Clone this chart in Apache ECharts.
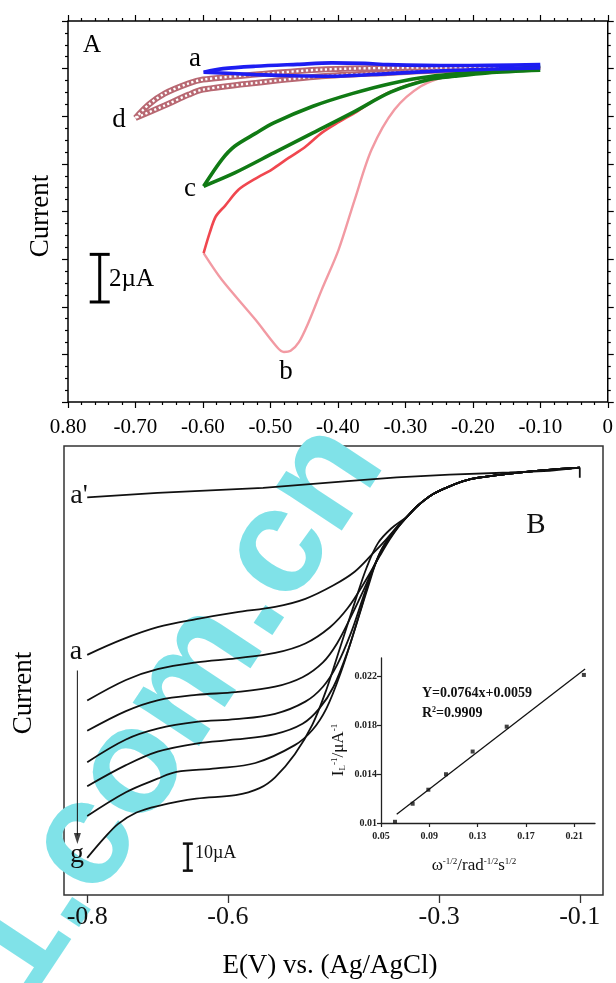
<!DOCTYPE html>
<html>
<head>
<meta charset="utf-8">
<script src="https://cdn.jsdelivr.net/npm/echarts@6/dist/echarts.min.js"></script>
<style>
  html, body { margin: 0; padding: 0; background: #fff; }
  #chart { width: 616px; height: 983px; }
</style>
</head>
<body>
<div id="chart"></div>
<script>
// ---------- Panel A: cyclic voltammograms, [potential (V), current (µA)] ----------
const cvA_a_fwd = [[-0.10,0.03],[-0.16,-0.01],[-0.227,-0.07],[-0.326,-0.21],[-0.409,-0.32],[-0.48,-0.29],[-0.522,-0.25],[-0.599,-0.15]];
const cvA_a_rev = [[-0.599,-0.15],[-0.57,0.0],[-0.522,0.10],[-0.46,0.18],[-0.409,0.24],[-0.36,0.22],[-0.326,0.17],[-0.227,0.13],[-0.10,0.17]];

const cvA_b_fwd = [[-0.10,0.0],[-0.178,-0.11],[-0.237,-0.32],[-0.277,-0.74],[-0.316,-1.72],[-0.350,-3.40],[-0.375,-5.50],[-0.399,-7.61],[-0.424,-9.29],[-0.444,-10.69],[-0.458,-11.5],[-0.47,-11.85],[-0.48,-11.9],[-0.49,-11.7],[-0.522,-10.55],[-0.572,-8.87],[-0.599,-7.75]];
const cvA_b_rev = [[-0.599,-7.75],[-0.59,-6.9],[-0.581,-6.21],[-0.567,-5.75],[-0.547,-5.08],[-0.522,-4.62],[-0.498,-4.24],[-0.473,-3.75],[-0.449,-3.30],[-0.424,-2.70],[-0.399,-2.25],[-0.375,-1.86],[-0.350,-1.40],[-0.326,-1.02],[-0.277,-0.53],[-0.227,-0.32],[-0.178,-0.15],[-0.10,0.05]];

const cvA_c_fwd = [[-0.10,-0.07],[-0.178,-0.18],[-0.227,-0.32],[-0.263,-0.45],[-0.321,-0.98],[-0.379,-1.86],[-0.437,-2.70],[-0.495,-3.54],[-0.553,-4.38],[-0.599,-4.94]];
const cvA_c_rev = [[-0.599,-4.94],[-0.572,-3.82],[-0.553,-3.26],[-0.522,-2.72],[-0.495,-2.28],[-0.437,-1.58],[-0.379,-1.05],[-0.321,-0.62],[-0.263,-0.33],[-0.178,-0.11],[-0.10,0.10]];

const cvA_d_fwd = [[-0.15,-0.02],[-0.25,-0.08],[-0.326,-0.18],[-0.424,-0.32],[-0.522,-0.60],[-0.60,-0.88],[-0.621,-1.09],[-0.657,-1.55],[-0.70,-2.07]];
const cvA_d_rev = [[-0.70,-2.07],[-0.68,-1.5],[-0.657,-1.05],[-0.621,-0.62],[-0.60,-0.46],[-0.522,-0.25],[-0.424,-0.04],[-0.326,0.03],[-0.25,0.05],[-0.15,0.05]];

// 2 µA scale bar in panel A
const scaleBarA = [[-0.753,-7.8],[-0.753,-9.8]];

// ---------- Panel B: linear sweep voltammograms at different rotation rates ----------
const lsvB_a0 = [[-0.8,-11.0],[-0.70,-9.3],[-0.55,-7.5],[-0.43,-5.0],[-0.36,-3.6],[-0.285,-2.6],[-0.2,-1.8],[-0.143,-1.2],[-0.1,0],[-0.1,-3.7]];
const lsvB_a = [[-0.8,-69.2],[-0.75,-63.5],[-0.70,-59],[-0.645,-56],[-0.589,-53.5],[-0.533,-51.5],[-0.49,-48.5],[-0.45,-43.5],[-0.42,-38.5],[-0.395,-32],[-0.375,-26.5],[-0.36,-22],[-0.345,-18],[-0.33,-14],[-0.31,-10],[-0.285,-6.9],[-0.254,-4.2],[-0.22,-2.9],[-0.19,-1.9],[-0.15,-0.9],[-0.1,0]];
const lsvB_b = [[-0.8,-86.1],[-0.745,-78.5],[-0.70,-74.5],[-0.645,-72],[-0.589,-70.5],[-0.533,-68.5],[-0.49,-65],[-0.455,-59],[-0.43,-52],[-0.405,-42],[-0.385,-33],[-0.37,-26.5],[-0.358,-22],[-0.345,-18],[-0.33,-14],[-0.31,-10],[-0.285,-6.9],[-0.254,-4.2],[-0.22,-2.9],[-0.19,-1.9],[-0.15,-0.9],[-0.1,0]];
const lsvB_c = [[-0.8,-97.3],[-0.745,-90],[-0.70,-86],[-0.645,-84],[-0.589,-83],[-0.533,-81],[-0.494,-77.5],[-0.465,-72],[-0.445,-65],[-0.425,-55],[-0.405,-44],[-0.39,-35],[-0.375,-28],[-0.36,-22.5],[-0.345,-18],[-0.33,-14],[-0.31,-10],[-0.285,-6.9],[-0.254,-4.2],[-0.22,-2.9],[-0.19,-1.9],[-0.15,-0.9],[-0.1,0]];
const lsvB_d = [[-0.8,-108.9],[-0.745,-100.5],[-0.70,-96.5],[-0.645,-94],[-0.589,-93],[-0.533,-91],[-0.49,-86.5],[-0.465,-81],[-0.445,-73],[-0.425,-61],[-0.408,-48],[-0.393,-37],[-0.378,-29],[-0.362,-23],[-0.345,-18],[-0.33,-14],[-0.31,-10],[-0.285,-6.9],[-0.254,-4.2],[-0.22,-2.9],[-0.19,-1.9],[-0.15,-0.9],[-0.1,0]];
const lsvB_e = [[-0.8,-117.8],[-0.745,-110],[-0.70,-105],[-0.645,-102],[-0.589,-100.5],[-0.533,-98.5],[-0.494,-94.7],[-0.47,-89],[-0.45,-81],[-0.43,-68],[-0.412,-53],[-0.397,-40],[-0.381,-30],[-0.364,-23.5],[-0.345,-18],[-0.33,-14],[-0.31,-10],[-0.285,-6.9],[-0.254,-4.2],[-0.22,-2.9],[-0.19,-1.9],[-0.15,-0.9],[-0.1,0]];
const lsvB_f = [[-0.8,-128.8],[-0.745,-120],[-0.70,-115],[-0.673,-112.5],[-0.617,-111.2],[-0.561,-109.2],[-0.505,-102.6],[-0.48,-97],[-0.46,-89],[-0.44,-76],[-0.42,-60],[-0.402,-45],[-0.385,-32],[-0.366,-24],[-0.345,-18],[-0.33,-14],[-0.31,-10],[-0.285,-6.9],[-0.254,-4.2],[-0.22,-2.9],[-0.19,-1.9],[-0.15,-0.9],[-0.1,0]];
const lsvB_g = [[-0.8,-144.3],[-0.776,-137],[-0.756,-131.7],[-0.73,-127.5],[-0.70,-125.1],[-0.645,-122.4],[-0.589,-121.1],[-0.555,-118.5],[-0.533,-114.5],[-0.505,-106],[-0.48,-95],[-0.46,-82],[-0.44,-66],[-0.42,-50],[-0.403,-37],[-0.387,-28],[-0.368,-22.5],[-0.345,-18],[-0.33,-14],[-0.31,-10],[-0.285,-6.9],[-0.254,-4.2],[-0.22,-2.9],[-0.19,-1.9],[-0.15,-0.9],[-0.1,0]];
const lsvCurves = [lsvB_a, lsvB_b, lsvB_c, lsvB_d, lsvB_e, lsvB_f, lsvB_g];

// arrow a -> g and 10 µA scale bar
const arrowB = [[-0.814,-75],[-0.814,-136]];
const scaleBarB = [[-0.657,-139],[-0.657,-149]];

// ---------- Inset: Koutecky-Levich plot ----------
const klX = [0.0616, 0.0762, 0.0892, 0.1038, 0.1259, 0.1541, 0.2180];
const klY = [0.0101, 0.01158, 0.01273, 0.0140, 0.01586, 0.0179, 0.02214];
const fitSlope = 0.0764, fitIntercept = 0.0059;
const fitRange = [0.063, 0.219];
const insetTicksX = [0.05, 0.09, 0.13, 0.17, 0.21];
const insetTicksY = [0.01, 0.014, 0.018, 0.022];

// panel B x ticks
const ticksB = [-0.8, -0.6, -0.3, -0.1];

const SERIF = '"Liberation Serif", "Times New Roman", serif';

const chart = echarts.init(document.getElementById('chart'), null, { renderer: 'canvas' });

function cvLine(data, color, width, z, extra) {
  return Object.assign({
    type: 'line', xAxisIndex: 0, yAxisIndex: 0, data: data,
    smooth: 0.3, showSymbol: false, symbol: 'none',
    lineStyle: { color: color, width: width }, z: z, silent: true, animation: false
  }, extra || {});
}

const series = [];
// d: chain of hollow squares (outline band with white holes)
[cvA_d_fwd, cvA_d_rev].forEach(d => {
  series.push(cvLine(d, '#b86872', 6, 2));
  series.push(cvLine(d, '#ffffff', 2.4, 3, { lineStyle: { color: '#ffffff', width: 2.4, type: [2.2, 2.6] } }));
});
series.push(cvLine(cvA_b_fwd, '#f29aa3', 2.4, 4));
series.push(cvLine(cvA_b_rev, '#f0474f', 2.6, 5));
series.push(cvLine(cvA_c_fwd, '#107a14', 3.6, 6));
series.push(cvLine(cvA_c_rev, '#107a14', 3.6, 6));
series.push(cvLine(cvA_a_fwd, '#1d1df2', 3.6, 7));
series.push(cvLine(cvA_a_rev, '#1d1df2', 3.6, 7));
series.push({
  type: 'line', xAxisIndex: 0, yAxisIndex: 0, data: scaleBarA, silent: true, animation: false,
  symbol: 'rect', symbolSize: [20, 3], showSymbol: true,
  itemStyle: { color: '#000' }, lineStyle: { color: '#000', width: 3 }, z: 8
});

// panel B
series.push({
  type: 'line', xAxisIndex: 1, yAxisIndex: 2, data: lsvB_a0, smooth: false, showSymbol: false, symbol: 'none',
  lineStyle: { color: '#111', width: 1.8 }, z: 5, silent: true, animation: false
});
lsvCurves.forEach(c => series.push({
  type: 'line', xAxisIndex: 1, yAxisIndex: 2, data: c, smooth: 0.35,
  showSymbol: false, symbol: 'none', lineStyle: { color: '#111', width: 1.8 }, z: 5, silent: true, animation: false
}));
series.push({
  type: 'line', xAxisIndex: 1, yAxisIndex: 2, data: arrowB, silent: true, animation: false,
  showSymbol: false, symbol: 'none', lineStyle: { color: '#111', width: 1 }, z: 5
});
series.push({
  type: 'scatter', xAxisIndex: 1, yAxisIndex: 2, data: [arrowB[1]], silent: true, animation: false,
  symbol: 'triangle', symbolRotate: 180, symbolSize: [7, 11], symbolOffset: [0, 3],
  itemStyle: { color: '#111' }, z: 5
});
series.push({
  type: 'line', xAxisIndex: 1, yAxisIndex: 2, data: scaleBarB, silent: true, animation: false,
  symbol: 'rect', symbolSize: [10, 2.5], showSymbol: true,
  itemStyle: { color: '#111' }, lineStyle: { color: '#111', width: 2.5 }, z: 5
});

// inset
series.push({
  type: 'line', xAxisIndex: 2, yAxisIndex: 3, silent: true, animation: false,
  data: fitRange.map(x => [x, fitSlope * x + fitIntercept]),
  showSymbol: false, symbol: 'none', lineStyle: { color: '#111', width: 1.3 }, z: 6
});
series.push({
  type: 'scatter', xAxisIndex: 2, yAxisIndex: 3, silent: true, animation: false,
  data: klX.map((x, i) => [x, klY[i]]), symbol: 'rect', symbolSize: 4,
  itemStyle: { color: '#111' }, z: 7
});

const noLine = { show: false, onZero: false };
const tickStyle = { color: '#000', width: 1.2 };

const option = {
  backgroundColor: '#fff',
  animation: false,
  grid: [
    { left: 68, top: 21, width: 543, height: 381, show: true, borderColor: '#000', borderWidth: 1.5, backgroundColor: 'transparent' },
    { left: 64, top: 446, width: 539, height: 449, show: true, borderColor: '#333', borderWidth: 1.5, backgroundColor: 'transparent' },
    { left: 381, top: 658, width: 214, height: 165 }
  ],
  xAxis: [
    { type: 'value', gridIndex: 0, position: 'bottom', min: -0.8, max: 0, interval: 0.1,
      axisLine: noLine, splitLine: { show: false },
      axisTick: { show: true, length: 6, lineStyle: tickStyle },
      minorTick: { show: true, splitNumber: 5, length: 3, lineStyle: tickStyle },
      axisLabel: { margin: 15, fontFamily: SERIF, fontSize: 21, color: '#000',
        formatter: v => { if (Math.abs(v) < 1e-9) return '0'; const s = v.toFixed(2); return s === '-0.80' ? '0.80' : s; } } },
    { type: 'value', gridIndex: 1, position: 'bottom', min: -0.833, max: -0.067,
      axisLine: noLine, splitLine: { show: false },
      axisTick: { show: true, length: 8, customValues: ticksB, lineStyle: { color: '#333', width: 1.3 } },
      axisLabel: { show: true, customValues: ticksB, margin: 9, fontFamily: SERIF, fontSize: 26, color: '#111',
        formatter: v => String(v) } },
    { type: 'value', gridIndex: 2, position: 'bottom', min: 0.05, max: 0.2272,
      axisLine: { show: true, onZero: false, lineStyle: { color: '#222', width: 1.3 } },
      splitLine: { show: false },
      axisTick: { show: true, length: 4, customValues: insetTicksX, lineStyle: { color: '#222', width: 1.2 } },
      axisLabel: { margin: 8, customValues: insetTicksX, fontFamily: SERIF, fontWeight: 'bold', fontSize: 10, color: '#222',
        formatter: v => v.toFixed(2) } },
    { type: 'value', gridIndex: 0, position: 'top', min: -0.8, max: 0, interval: 0.1,
      axisLine: noLine, splitLine: { show: false }, axisLabel: { show: false },
      axisTick: { show: true, length: 6, lineStyle: tickStyle },
      minorTick: { show: true, splitNumber: 5, length: 3, lineStyle: tickStyle } }
  ],
  yAxis: [
    { type: 'value', gridIndex: 0, position: 'left', min: -14, max: 2, interval: 2,
      axisLine: noLine, splitLine: { show: false }, axisLabel: { show: false },
      axisTick: { show: true, length: 6, lineStyle: tickStyle },
      minorTick: { show: true, splitNumber: 4, length: 3, lineStyle: tickStyle } },
    { type: 'value', gridIndex: 0, position: 'right', min: -14, max: 2, interval: 2,
      axisLine: noLine, splitLine: { show: false }, axisLabel: { show: false },
      axisTick: { show: true, length: 6, lineStyle: tickStyle },
      minorTick: { show: true, splitNumber: 4, length: 3, lineStyle: tickStyle } },
    { type: 'value', gridIndex: 1, min: -158, max: 8, show: false, axisLine: noLine },
    { type: 'value', gridIndex: 2, position: 'left', min: 0.01, max: 0.02353,
      axisLine: { show: true, onZero: false, lineStyle: { color: '#222', width: 1.3 } },
      splitLine: { show: false },
      axisTick: { show: true, length: 4, customValues: insetTicksY, lineStyle: { color: '#222', width: 1.2 } },
      axisLabel: { margin: 4, customValues: insetTicksY, fontFamily: SERIF, fontWeight: 'bold', fontSize: 10, color: '#222',
        formatter: v => String(parseFloat(v.toFixed(3))) } }
  ],
  series: series,
  graphic: [
    // watermark
    { type: 'text', x: 352, y: 440, rotation: 0.986, z: 0, silent: true,
      style: { text: '1.com.cn', fill: '#80e2e8', font: 'bold 150px "Liberation Sans", Arial, sans-serif',
        textAlign: 'right', textVerticalAlign: 'middle' } },
    // panel A texts
    { type: 'text', x: 41, y: 216, rotation: Math.PI / 2, z: 100,
      style: { text: 'Current', font: '27px ' + SERIF, fill: '#000', textAlign: 'center', textVerticalAlign: 'middle' } },
    { type: 'text', x: 92, y: 45, z: 100, style: { text: 'A', font: '25px ' + SERIF, fill: '#000', textAlign: 'center', textVerticalAlign: 'middle' } },
    { type: 'text', x: 195, y: 59, z: 100, style: { text: 'a', font: '27px ' + SERIF, fill: '#000', textAlign: 'center', textVerticalAlign: 'middle' } },
    { type: 'text', x: 119, y: 120, z: 100, style: { text: 'd', font: '27px ' + SERIF, fill: '#000', textAlign: 'center', textVerticalAlign: 'middle' } },
    { type: 'text', x: 190, y: 189, z: 100, style: { text: 'c', font: '27px ' + SERIF, fill: '#000', textAlign: 'center', textVerticalAlign: 'middle' } },
    { type: 'text', x: 286, y: 372, z: 100, style: { text: 'b', font: '27px ' + SERIF, fill: '#000', textAlign: 'center', textVerticalAlign: 'middle' } },
    { type: 'text', x: 109, y: 279, z: 100, style: { text: '2µA', font: '25px ' + SERIF, fill: '#000', textAlign: 'left', textVerticalAlign: 'middle' } },
    // panel B texts
    { type: 'text', x: 24, y: 693, rotation: Math.PI / 2, z: 100,
      style: { text: 'Current', font: '27px ' + SERIF, fill: '#000', textAlign: 'center', textVerticalAlign: 'middle' } },
    { type: 'text', x: 536, y: 525, z: 100, style: { text: 'B', font: '29px ' + SERIF, fill: '#111', textAlign: 'center', textVerticalAlign: 'middle' } },
    { type: 'text', x: 79, y: 496, z: 100, style: { text: "a'", font: '28px ' + SERIF, fill: '#111', textAlign: 'center', textVerticalAlign: 'middle' } },
    { type: 'text', x: 76, y: 652, z: 100, style: { text: 'a', font: '28px ' + SERIF, fill: '#111', textAlign: 'center', textVerticalAlign: 'middle' } },
    { type: 'text', x: 77, y: 855, z: 100, style: { text: 'g', font: '28px ' + SERIF, fill: '#111', textAlign: 'center', textVerticalAlign: 'middle' } },
    { type: 'text', x: 195, y: 853, z: 100, style: { text: '10µA', font: '18px ' + SERIF, fill: '#111', textAlign: 'left', textVerticalAlign: 'middle' } },
    { type: 'text', x: 330, y: 966, z: 100, style: { text: 'E(V) vs. (Ag/AgCl)', font: '27px ' + SERIF, fill: '#000', textAlign: 'center', textVerticalAlign: 'middle' } },
    // inset texts
    { type: 'text', x: 422, y: 693, z: 100, style: { text: 'Y=0.0764x+0.0059', font: 'bold 14px ' + SERIF, fill: '#111', textAlign: 'left', textVerticalAlign: 'middle' } },
    { type: 'text', x: 422, y: 713, z: 100,
      style: { text: '{b|R}{s|2}{b|=0.9909}', textAlign: 'left', textVerticalAlign: 'middle',
        rich: { b: { font: 'bold 14px ' + SERIF, fill: '#111' }, s: { font: 'bold 8px ' + SERIF, fill: '#111', verticalAlign: 'top' } } } },
    { type: 'text', x: 474, y: 866, z: 100,
      style: { text: '{m|ω}{s|-1/2}{m|/rad}{s|-1/2}{m|s}{s|1/2}', textAlign: 'center', textVerticalAlign: 'middle',
        rich: { m: { font: '17px ' + SERIF, fill: '#111' }, s: { font: '9px ' + SERIF, fill: '#111', verticalAlign: 'top' } } } },
    { type: 'text', x: 339, y: 750, rotation: Math.PI / 2, z: 100,
      style: { text: '{m|I}{u|L}{s|-1}{m|/μA}{s|-1}', textAlign: 'center', textVerticalAlign: 'middle',
        rich: { m: { font: '17px ' + SERIF, fill: '#111' }, u: { font: '9px ' + SERIF, fill: '#111', verticalAlign: 'bottom' },
                s: { font: '9px ' + SERIF, fill: '#111', verticalAlign: 'top' } } } }
  ]
};

chart.setOption(option);
</script>
</body>
</html>
